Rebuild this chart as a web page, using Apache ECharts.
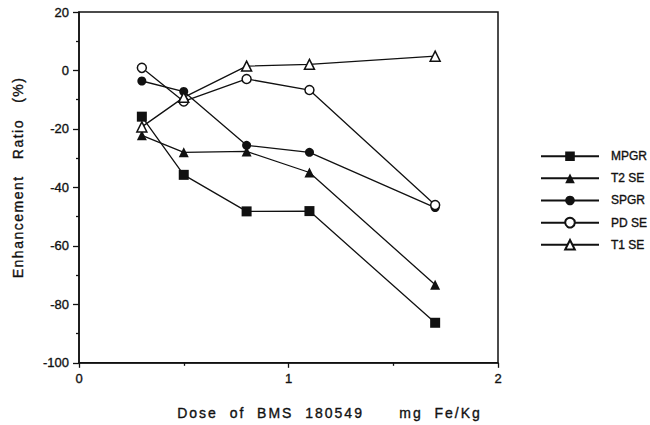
<!DOCTYPE html>
<html>
<head>
<meta charset="utf-8">
<script src="https://cdn.jsdelivr.net/npm/echarts@6/dist/echarts.min.js"></script>
<style>
html,body{margin:0;padding:0;background:#fff;}
#chart{width:650px;height:425px;}
</style>
</head>
<body>
<div id="chart"></div>
<script>
var doses = [0.3, 0.5, 0.8, 1.1, 1.7];
var seriesNames = ['MPGR', 'T2 SE', 'SPGR', 'PD SE', 'T1 SE'];
var mpgr = [-15.8, -35.7, -48.2, -48.1, -86.3];
var t2se = [-22.2, -28.0, -27.7, -34.9, -73.3];
var spgr = [-3.6, -7.2, -25.6, -28.0, -46.9];
var pdse = [0.9, -10.6, -2.9, -6.7, -46.0];
var t1se = [-19.3, -9.2, 1.5, 2.1, 4.9];
var yTicks = [-100, -80, -60, -40, -20, 0, 20];
var xTicks = [0, 1, 2];

var INK = '#111';
function pairs(vals) { return doses.map(function (d, i) { return [d, vals[i]]; }); }
function mk(name, vals, symbol, size, filled) {
  return {
    name: name, type: 'line', data: pairs(vals),
    symbol: symbol, symbolSize: size, showSymbol: true,
    lineStyle: { color: INK, width: 1.3 },
    itemStyle: filled ? { color: INK, borderColor: INK, borderWidth: 0 }
                      : { color: '#fff', borderColor: INK, borderWidth: 1.5 },
    emphasis: { disabled: true },
    animation: false
  };
}

var chart = echarts.init(document.getElementById('chart'), null, { renderer: 'svg' });
var font = 'Liberation Sans, Arial, Helvetica, sans-serif';
var thick = { textBorderColor: INK, textBorderWidth: 0.35 };
chart.setOption({
  backgroundColor: '#fff',
  animation: false,
  textStyle: { fontFamily: font, color: INK },
  grid: { left: 79, right: 152, top: 12, bottom: 53, show: true, borderColor: INK, borderWidth: 1.5, backgroundColor: 'transparent' },
  legend: {
    orient: 'vertical', left: 535, top: 145,
    itemWidth: 58, itemHeight: 12, itemGap: 9.8,
    data: seriesNames,
    textStyle: Object.assign({ fontFamily: font, fontSize: 12, color: INK, padding: [0, 0, 0, 7] }, thick),
    selectedMode: false
  },
  xAxis: {
    type: 'value', min: xTicks[0], max: xTicks[xTicks.length - 1], interval: 1,
    name: 'Dose  of  BMS  180549      mg  Fe/Kg',
    nameLocation: 'middle', nameGap: 43,
    nameTextStyle: Object.assign({ fontFamily: font, fontSize: 14, color: INK, padding: [0, 0, 0, 82] }, thick),
    axisLine: { show: true, onZero: false, lineStyle: { color: INK, width: 1.5 } },
    axisTick: { show: true, length: 5, lineStyle: { color: INK, width: 1.3 } },
    minorTick: { show: true, splitNumber: 2, length: 3, lineStyle: { color: INK, width: 1.3 } },
    axisLabel: Object.assign({ fontFamily: font, fontSize: 13, color: INK, margin: 9 }, thick),
    splitLine: { show: false }
  },
  yAxis: {
    type: 'value', min: yTicks[0], max: yTicks[yTicks.length - 1], interval: 20,
    name: 'Enhancement   Ratio   (%)',
    nameLocation: 'middle', nameGap: 54, nameRotate: 90,
    nameTextStyle: Object.assign({ fontFamily: font, fontSize: 14, color: INK, padding: [0, 0, 0, 20] }, thick),
    axisLine: { show: true, onZero: false, lineStyle: { color: INK, width: 1.5 } },
    axisTick: { show: true, length: 6, lineStyle: { color: INK, width: 1.3 } },
    minorTick: { show: true, splitNumber: 2, length: 3, lineStyle: { color: INK, width: 1.3 } },
    axisLabel: Object.assign({ fontFamily: font, fontSize: 13, color: INK, margin: 10 }, thick),
    splitLine: { show: false }
  },
  series: [
    mk(seriesNames[0], mpgr, 'rect', 10, true),
    mk(seriesNames[1], t2se, 'triangle', 10, true),
    mk(seriesNames[2], spgr, 'circle', 9, true),
    mk(seriesNames[3], pdse, 'circle', 9, false),
    mk(seriesNames[4], t1se, 'triangle', 10, false)
  ]
});

function spaceTitles() {
  var texts = document.querySelectorAll('#chart svg text');
  texts.forEach(function (t) {
    var s = t.textContent || '';
    if (s.indexOf('Dose') >= 0) {
      t.style.letterSpacing = '2px';
      t.style.whiteSpace = 'pre';
    } else if (s.indexOf('Enhancement') >= 0) {
      t.style.letterSpacing = '1.5px';
      t.style.whiteSpace = 'pre';
    }
  });
}
chart.on('rendered', spaceTitles);
spaceTitles();
setTimeout(spaceTitles, 0);
</script>
</body>
</html>
